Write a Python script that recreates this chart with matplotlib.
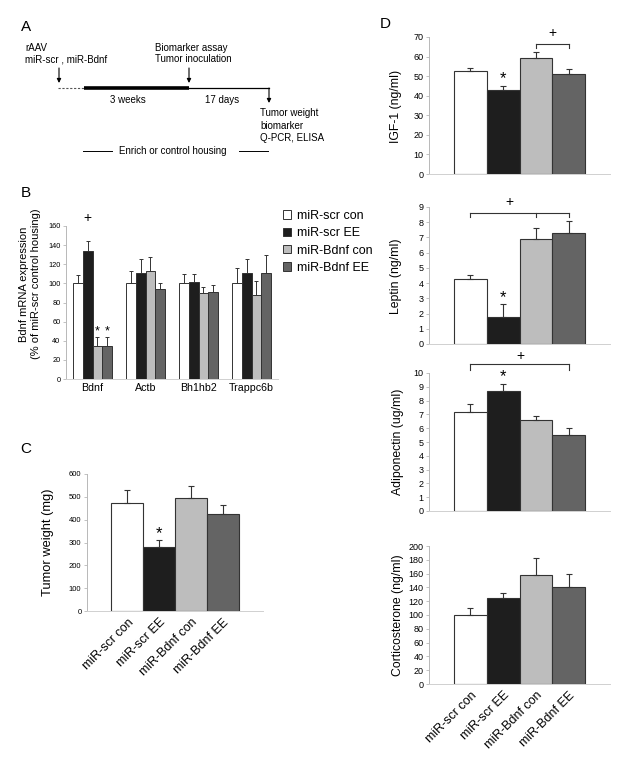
import matplotlib
matplotlib.use('Agg')
import matplotlib.pyplot as plt
import numpy as np

plt.rcParams['font.family'] = ['Liberation Sans', 'DejaVu Sans']

W, H = 624, 770

groups = ['miR-scr con', 'miR-scr EE', 'miR-Bdnf con', 'miR-Bdnf EE']
colors = ['#ffffff', '#1e1e1e', '#bdbdbd', '#646464']
edge = '#333333'

# panel B: rows are groups, columns are genes
genes = ['Bdnf', 'Actb', 'Bh1hb2', 'Trappc6b']
mrna_mean = [[100, 100, 100, 100],
             [134, 111, 101, 111],
             [35, 113, 90, 88],
             [34, 94, 91, 111]]
mrna_err = [[9, 13, 10, 16],
            [10, 15, 9, 14],
            [9, 15, 6, 14],
            [10, 6, 7, 19]]

# panel C
tumor_mean = [472, 280, 497, 427]
tumor_err = [60, 33, 51, 36]

# panel D
igf_mean = [52.5, 42.8, 59.5, 51.0]
igf_err = [1.5, 2.2, 3.0, 2.4]
leptin_mean = [4.25, 1.8, 6.9, 7.3]
leptin_err = [0.3, 0.8, 0.75, 0.75]
adipo_mean = [7.2, 8.7, 6.6, 5.5]
adipo_err = [0.55, 0.5, 0.25, 0.5]
cort_mean = [100, 124, 158, 140]
cort_err = [10, 8, 24, 20]


def px_axes(fig, left, top, right, bottom):
    return fig.add_axes([left / W, 1 - bottom / H, (right - left) / W, (bottom - top) / H])


def style(ax, tick_fs):
    for s in ['top', 'right']:
        ax.spines[s].set_visible(False)
    ax.spines['left'].set_color('#b8b8b8')
    ax.spines['bottom'].set_color('#d0d0d0')
    ax.spines['left'].set_linewidth(0.7)
    ax.spines['bottom'].set_linewidth(0.7)
    ax.tick_params(axis='y', length=2, width=0.6, color='#b8b8b8', labelsize=tick_fs, pad=2)
    ax.tick_params(axis='x', length=0)


def star(ax, x, y, fs=12):
    # asterisk glyph sits high in its box, so nudge it down a little
    ax.annotate('*', (x, y), xytext=(0, -2.5), textcoords='offset points',
                ha='center', va='center', fontsize=fs, annotation_clip=False)


def four_bars(ax, means, errs, ymax, step, tick_fs=6.5):
    x = np.arange(4)
    ax.bar(x, means, width=1.0, color=colors, edgecolor=edge, linewidth=0.8, zorder=2)
    ax.errorbar(x, means, yerr=[np.zeros(4), errs], fmt='none', ecolor=edge,
                elinewidth=0.8, capsize=2, capthick=0.8, zorder=3)
    ax.set_xlim(-1.27, 4.27)
    ax.set_ylim(0, ymax)
    ax.set_yticks(np.arange(0, ymax + step / 2, step))
    ax.set_xticks([])
    style(ax, tick_fs)


def bracket(ax, xs, y_line, y_end, label_x, label_y):
    ax.plot([xs[0], xs[-1]], [y_line, y_line], color='#333333', lw=0.8, clip_on=False)
    for xv in xs:
        ax.plot([xv, xv], [y_line, y_end], color='#333333', lw=0.8, clip_on=False)
    ax.text(label_x, label_y, '+', ha='center', va='center', fontsize=10, clip_on=False)


def ylab(fig, text, x_px, y_px, fs):
    fig.text(x_px / W, 1 - y_px / H, text, rotation=90, ha='center', va='center',
             fontsize=fs, multialignment='center', linespacing=1.15)


fig = plt.figure(figsize=(W / 100, H / 100), dpi=100)

# ---- panel A: timeline schematic (pixel coordinates) ----
axA = fig.add_axes([0, 0, 1, 1])
axA.set_xlim(0, W)
axA.set_ylim(H, 0)
axA.axis('off')
fsA = 7
axA.text(25, 48, 'rAAV', fontsize=fsA, va='center')
axA.text(25, 59, 'miR-scr , miR-Bdnf', fontsize=fsA, va='center')
axA.text(155, 48, 'Biomarker assay', fontsize=fsA, va='center')
axA.text(155, 59, 'Tumor inoculation', fontsize=fsA, va='center')
arrow = dict(arrowstyle='-|>', lw=0.8, color='k', mutation_scale=6, shrinkA=0, shrinkB=0)
axA.annotate('', xy=(59, 83), xytext=(59, 68), arrowprops=arrow)
axA.annotate('', xy=(189, 83), xytext=(189, 68), arrowprops=arrow)
axA.plot([58, 84], [88, 88], color='#555555', lw=0.8, ls=(0, (2, 1.5)))
axA.plot([84, 189], [88, 88], color='k', lw=2.6, solid_capstyle='butt')
axA.plot([189, 269], [88, 88], color='k', lw=0.9)
axA.annotate('', xy=(269, 103), xytext=(269, 88), arrowprops=arrow)
axA.text(128, 100, '3 weeks', fontsize=fsA, ha='center', va='center')
axA.text(222, 100, '17 days', fontsize=fsA, ha='center', va='center')
axA.text(260, 113, 'Tumor weight', fontsize=fsA, va='center')
axA.text(260, 126, 'biomarker', fontsize=fsA, va='center')
axA.text(260, 138, 'Q-PCR, ELISA', fontsize=fsA, va='center')
axA.text(173, 151, 'Enrich or control housing', fontsize=fsA, ha='center', va='center')
axA.plot([83, 112], [151, 151], color='k', lw=0.7)
axA.plot([239, 268], [151, 151], color='k', lw=0.7)
for letter, (lx, ly) in zip('ABCD', [(26, 27), (26, 193), (26, 449), (385, 24)]):
    axA.text(lx, ly, letter, fontsize=11, ha='center', va='center')

# ---- panel B ----
axB = px_axes(fig, 66, 226, 278, 379)
bw = 0.1875
xg = np.arange(len(genes))
handles = []
for j, g in enumerate(groups):
    xs = xg + (j - 1.5) * bw
    b = axB.bar(xs, mrna_mean[j], width=bw, color=colors[j], edgecolor=edge,
                linewidth=0.7, zorder=2, label=g)
    axB.errorbar(xs, mrna_mean[j], yerr=[np.zeros(len(genes)), mrna_err[j]], fmt='none',
                 ecolor=edge, elinewidth=0.7, capsize=1.6, capthick=0.7, zorder=3)
    handles.append(b)
axB.set_xlim(-0.5, 3.5)
axB.set_ylim(0, 160)
axB.set_yticks(np.arange(0, 161, 20))
axB.set_xticks(xg)
axB.set_xticklabels(genes, fontsize=7.7)
style(axB, 5.3)
axB.tick_params(axis='x', pad=3)
axB.text(xg[0] - 0.5 * bw, 168, '+', ha='center', va='center', fontsize=10)
for j in (2, 3):
    star(axB, xg[0] + (j - 1.5) * bw, 53, fs=9)
ylab(fig, 'Bdnf mRNA expression\n(% of miR-scr control housing)', 30, 284, 8)
axB.legend(handles, groups, loc='upper left', bbox_to_anchor=(283 / W, 1 - 210 / H),
           bbox_transform=fig.transFigure, frameon=False, fontsize=9,
           handlelength=0.65, handleheight=0.65, handletextpad=0.5, labelspacing=0.42,
           borderaxespad=0, borderpad=0)

# ---- panel C ----
axC = px_axes(fig, 87, 474, 263, 611)
four_bars(axC, tumor_mean, tumor_err, 600, 100, tick_fs=5.5)
star(axC, 1, 355)
axC.set_xticks(np.arange(4))
axC.set_xticklabels(groups, rotation=45, ha='right', rotation_mode='anchor', fontsize=9)
axC.tick_params(axis='x', pad=4)
ylab(fig, 'Tumor weight (mg)', 48, 542, 9.3)

# ---- panel D ----
axI = px_axes(fig, 429, 37, 610, 174)
four_bars(axI, igf_mean, igf_err, 70, 10)
star(axI, 1, 50.5)
bracket(axI, [2, 3], 66.3, 64.2, 2.5, 72)
ylab(fig, 'IGF-1 (ng/ml)', 396, 106, 8.8)

axL = px_axes(fig, 429, 207, 610, 344)
four_bars(axL, leptin_mean, leptin_err, 9, 1)
star(axL, 1, 3.3)
bracket(axL, [0, 2, 3], 8.6, 8.35, 1.2, 9.3)
ylab(fig, 'Leptin (ng/ml)', 396, 276, 8.8)

axP = px_axes(fig, 429, 373, 610, 511)
four_bars(axP, adipo_mean, adipo_err, 10, 1)
star(axP, 1, 10.0)
bracket(axP, [0, 3], 10.65, 10.2, 1.53, 11.2)
ylab(fig, 'Adiponectin (ug/ml)', 398, 442, 8.8)

axK = px_axes(fig, 429, 546, 610, 684)
four_bars(axK, cort_mean, cort_err, 200, 20)
axK.set_xticks(np.arange(4))
axK.set_xticklabels(groups, rotation=45, ha='right', rotation_mode='anchor', fontsize=9)
axK.tick_params(axis='x', pad=4)
ylab(fig, 'Corticosterone (ng/ml)', 398, 615, 8.8)

fig.savefig('out.png', dpi=100)
